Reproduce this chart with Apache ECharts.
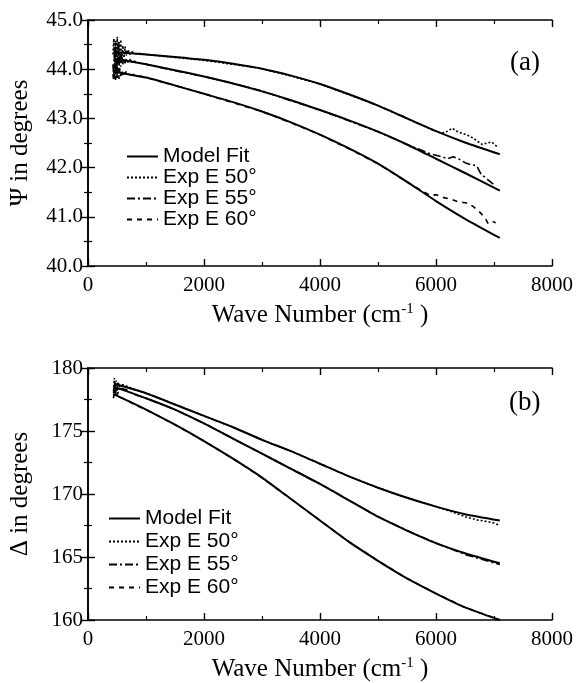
<!DOCTYPE html>
<html>
<head>
<meta charset="utf-8">
<script src="https://cdn.jsdelivr.net/npm/echarts@6/dist/echarts.min.js"></script>
<style>
  html, body { margin: 0; padding: 0; background: #fff; }
  #chart { width: 576px; height: 683px; }
</style>
</head>
<body>
<div id="chart"></div>
<script>
// wave numbers for the model curves
const fitWaves = [450, 1000, 1500, 2000, 2500, 3000, 3500, 4000, 4500, 5000, 5500, 6000, 6500, 7100];

// panel (a): psi, model fits
const psiFit50 = [44.35, 44.30, 44.25, 44.19, 44.11, 44.01, 43.87, 43.70, 43.49, 43.26, 43.00, 42.74, 42.51, 42.27];
const psiFit55 = [44.22, 44.10, 43.98, 43.85, 43.71, 43.55, 43.37, 43.17, 42.96, 42.73, 42.47, 42.18, 41.89, 41.53];
const psiFit60 = [43.95, 43.83, 43.67, 43.50, 43.33, 43.14, 42.92, 42.67, 42.39, 42.08, 41.71, 41.32, 40.96, 40.57];

// panel (a): psi, experiment (noisy start, deviations at the high end)
const psiExp50 = [[430,44.30],[445,44.62],[460,44.05],[475,44.58],[490,44.15],[505,44.66],[520,44.10],[535,44.55],[550,44.20],[565,44.60],[580,44.22],
  [600,44.48],[620,44.25],[640,44.46],[660,44.28],[690,44.40],[720,44.30],[760,44.36],[800,44.31],[900,44.32],
  [1000,44.30],[1500,44.24],[2000,44.18],[2500,44.10],[3000,44.01],[3500,43.86],[4000,43.70],[4500,43.48],[5000,43.26],[5500,43.00],[6000,42.74],
  [6100,42.70],[6200,42.74],[6280,42.80],[6360,42.74],[6440,42.70],[6540,42.66],[6640,42.60],[6720,42.53],[6800,42.47],[6880,42.50],[6960,42.52],[7050,42.43]];
const psiExp55 = [[430,44.10],[445,43.80],[460,44.45],[475,43.90],[490,44.40],[505,43.95],[520,44.50],[535,44.00],[550,44.35],[565,44.05],[580,44.30],
  [600,44.10],[620,44.28],[640,44.12],[660,44.22],[690,44.14],[720,44.20],[760,44.14],[800,44.16],[900,44.12],
  [1000,44.10],[1500,43.97],[2000,43.85],[2500,43.71],[3000,43.56],[3500,43.36],[4000,43.17],[4500,42.95],[5000,42.73],[5500,42.47],[5900,42.28],
  [6000,42.25],[6100,42.22],[6200,42.18],[6300,42.22],[6400,42.17],[6500,42.10],[6600,42.06],[6700,42.04],[6780,41.86],[6870,41.78],[6950,41.70],[7030,41.63]];
const psiExp60 = [[430,43.90],[445,43.75],[460,44.10],[475,43.78],[490,44.05],[505,43.82],[520,44.00],[535,43.80],[550,44.02],[565,43.86],[580,43.98],
  [600,43.88],[620,43.97],[640,43.90],[660,43.96],[690,43.90],[720,43.94],[760,43.88],[800,43.90],[900,43.86],
  [1000,43.83],[1500,43.67],[2000,43.50],[2500,43.32],[3000,43.14],[3500,42.91],[4000,42.67],[4500,42.38],[5000,42.08],[5500,41.71],[5900,41.43],
  [6000,41.45],[6100,41.40],[6250,41.36],[6400,41.30],[6550,41.28],[6650,41.20],[6750,41.10],[6850,40.97],[6900,40.86],[6980,40.90],[7030,40.88]];

// panel (b): delta, model fits
const delFit50 = [178.75, 178.0, 177.1, 176.2, 175.3, 174.3, 173.4, 172.4, 171.4, 170.5, 169.7, 169.0, 168.4, 167.9];
const delFit55 = [178.5, 177.6, 176.7, 175.6, 174.4, 173.2, 172.0, 170.8, 169.5, 168.2, 167.1, 166.1, 165.3, 164.5];
const delFit60 = [177.9, 176.7, 175.5, 174.2, 172.8, 171.3, 169.6, 167.9, 166.2, 164.7, 163.3, 162.1, 161.0, 160.0];

// panel (b): delta, experiment
const delExp50 = [[440,178.2],[455,179.2],[470,178.3],[485,179.0],[500,178.4],[520,178.9],[540,178.5],[570,178.7],[650,178.6],[800,178.3],
  [1000,178.0],[1500,177.1],[2000,176.2],[2500,175.3],[3000,174.3],[3500,173.4],[4000,172.4],[4500,171.4],[5000,170.5],[5500,169.7],[6000,169.0],
  [6100,168.85],[6300,168.55],[6500,168.2],[6700,167.95],[6900,167.8],[7000,167.7],[7100,167.5]];
const delExp55 = [[440,178.0],[455,178.9],[470,178.1],[485,178.7],[500,178.2],[520,178.6],[540,178.2],[570,178.4],[650,178.3],[800,177.9],
  [1000,177.6],[1500,176.7],[2000,175.6],[2500,174.4],[3000,173.2],[3500,172.0],[4000,170.8],[4500,169.5],[5000,168.2],[5500,167.1],[6000,166.1],
  [6500,165.2],[7100,164.4]];
const delExp60 = [[440,177.6],[455,178.4],[470,177.7],[485,178.2],[500,177.8],[520,178.1],[540,177.7],[570,177.8],[650,177.5],[800,177.1],
  [1000,176.7],[1500,175.5],[2000,174.2],[2500,172.8],[3000,171.3],[3500,169.6],[4000,167.9],[4500,166.2],[5000,164.7],[5500,163.3],[6000,162.1],
  [6500,161.0],[7100,160.0]];

const legendNames = ['Model Fit', 'Exp E 50°', 'Exp E 55°', 'Exp E 60°'];
const xTicks = { min: 0, max: 8000, interval: 2000 };

const serif = '"Liberation Serif", "DejaVu Serif", serif';
const sans = '"Liberation Sans", Arial, sans-serif';
const dash50 = [2, 2];
const dash55 = [8, 3, 2, 3];
const dash60 = [5, 5];

function pair(xs, ys) {
  return xs.map((x, i) => [x, ys[i]]);
}

function axisBase() {
  return {
    type: 'value',
    axisLine: { show: true, lineStyle: { color: '#000', width: 1.6 } },
    axisTick: { show: true, inside: true, length: 7, lineStyle: { color: '#000', width: 1.4 } },
    minorTick: { show: true, splitNumber: 2, length: 4, lineStyle: { color: '#000', width: 1.2 } },
    splitLine: { show: false },
    axisLabel: { color: '#000', fontFamily: serif, fontSize: 21 }
  };
}

function xAx(grid, pos, withLabel) {
  const a = Object.assign(axisBase(), xTicks, { gridIndex: grid, position: pos });
  if (withLabel) {
    a.axisLabel.margin = 9;
    a.axisLabel.formatter = v => String(v);
    a.name = 'Wave Number (cm{sup|-1} )';
    a.nameLocation = 'middle';
    a.nameGap = 36;
    a.nameTextStyle = {
      color: '#000', fontFamily: serif, fontSize: 25,
      rich: { sup: { fontFamily: serif, fontSize: 15, padding: [0, 0, 12, 0], color: '#000' } }
    };
  } else {
    a.axisLabel = { show: false };
  }
  return a;
}

function yAx(grid, pos, min, max, interval, title, digits) {
  const a = Object.assign(axisBase(), { gridIndex: grid, position: pos, min: min, max: max, interval: interval });
  if (title) {
    a.axisLabel.margin = 5;
    a.axisLabel.formatter = v => v.toFixed(digits);
    a.name = title;
    a.nameLocation = 'middle';
    a.nameGap = 55;
    a.nameTextStyle = { color: '#000', fontFamily: serif, fontSize: 25 };
  } else {
    a.axisLabel = { show: false };
  }
  return a;
}

function fitSeries(grid, data) {
  return {
    name: 'Model Fit', type: 'line', xAxisIndex: grid * 2, yAxisIndex: grid * 2,
    data: data, symbol: 'none', smooth: 0.2, z: 3, color: '#000',
    lineStyle: { color: '#000', width: 2 }
  };
}

function expSeries(grid, name, data, dash) {
  return {
    name: name, type: 'line', xAxisIndex: grid * 2, yAxisIndex: grid * 2,
    data: data, symbol: 'none', z: 2, color: '#000',
    lineStyle: { color: '#000', width: 1.6, type: dash }
  };
}

function legendAt(left, top, gap) {
  return {
    data: legendNames, orient: 'vertical', left: left, top: top,
    itemWidth: 31, itemHeight: 14, itemGap: gap,
    itemStyle: { opacity: 0 },
    textStyle: { color: '#000', fontFamily: sans, fontSize: 21 },
    selectedMode: false
  };
}

const chart = echarts.init(document.getElementById('chart'));
chart.setOption({
  backgroundColor: '#fff',
  animation: false,
  title: [
    { text: '(a)', left: 505, top: 44, textStyle: { fontFamily: serif, fontSize: 27, fontWeight: 'normal', color: '#000' } },
    { text: '(b)', left: 504, top: 384, textStyle: { fontFamily: serif, fontSize: 27, fontWeight: 'normal', color: '#000' } }
  ],
  legend: [legendAt(121, 141, 0), legendAt(103, 503, 2)],
  grid: [
    { left: 88, top: 20, width: 472, height: 246 },
    { left: 84, top: 368, width: 480, height: 255 }
  ],
  xAxis: [xAx(0, 'bottom', true), xAx(0, 'top', false), xAx(1, 'bottom', true), xAx(1, 'top', false)],
  yAxis: [
    yAx(0, 'left', 40, 45, 1, 'Ψ in degrees', 1), yAx(0, 'right', 40, 45, 1, null, 1),
    yAx(1, 'left', 160, 180, 5, 'Δ in degrees', 0), yAx(1, 'right', 160, 180, 5, null, 0)
  ],
  series: [
    fitSeries(0, pair(fitWaves, psiFit50)),
    fitSeries(0, pair(fitWaves, psiFit55)),
    fitSeries(0, pair(fitWaves, psiFit60)),
    expSeries(0, 'Exp E 50°', psiExp50, dash50),
    expSeries(0, 'Exp E 55°', psiExp55, dash55),
    expSeries(0, 'Exp E 60°', psiExp60, dash60),
    fitSeries(1, pair(fitWaves, delFit50)),
    fitSeries(1, pair(fitWaves, delFit55)),
    fitSeries(1, pair(fitWaves, delFit60)),
    expSeries(1, 'Exp E 50°', delExp50, dash50),
    expSeries(1, 'Exp E 55°', delExp55, dash55),
    expSeries(1, 'Exp E 60°', delExp60, dash60)
  ]
});
</script>
</body>
</html>
